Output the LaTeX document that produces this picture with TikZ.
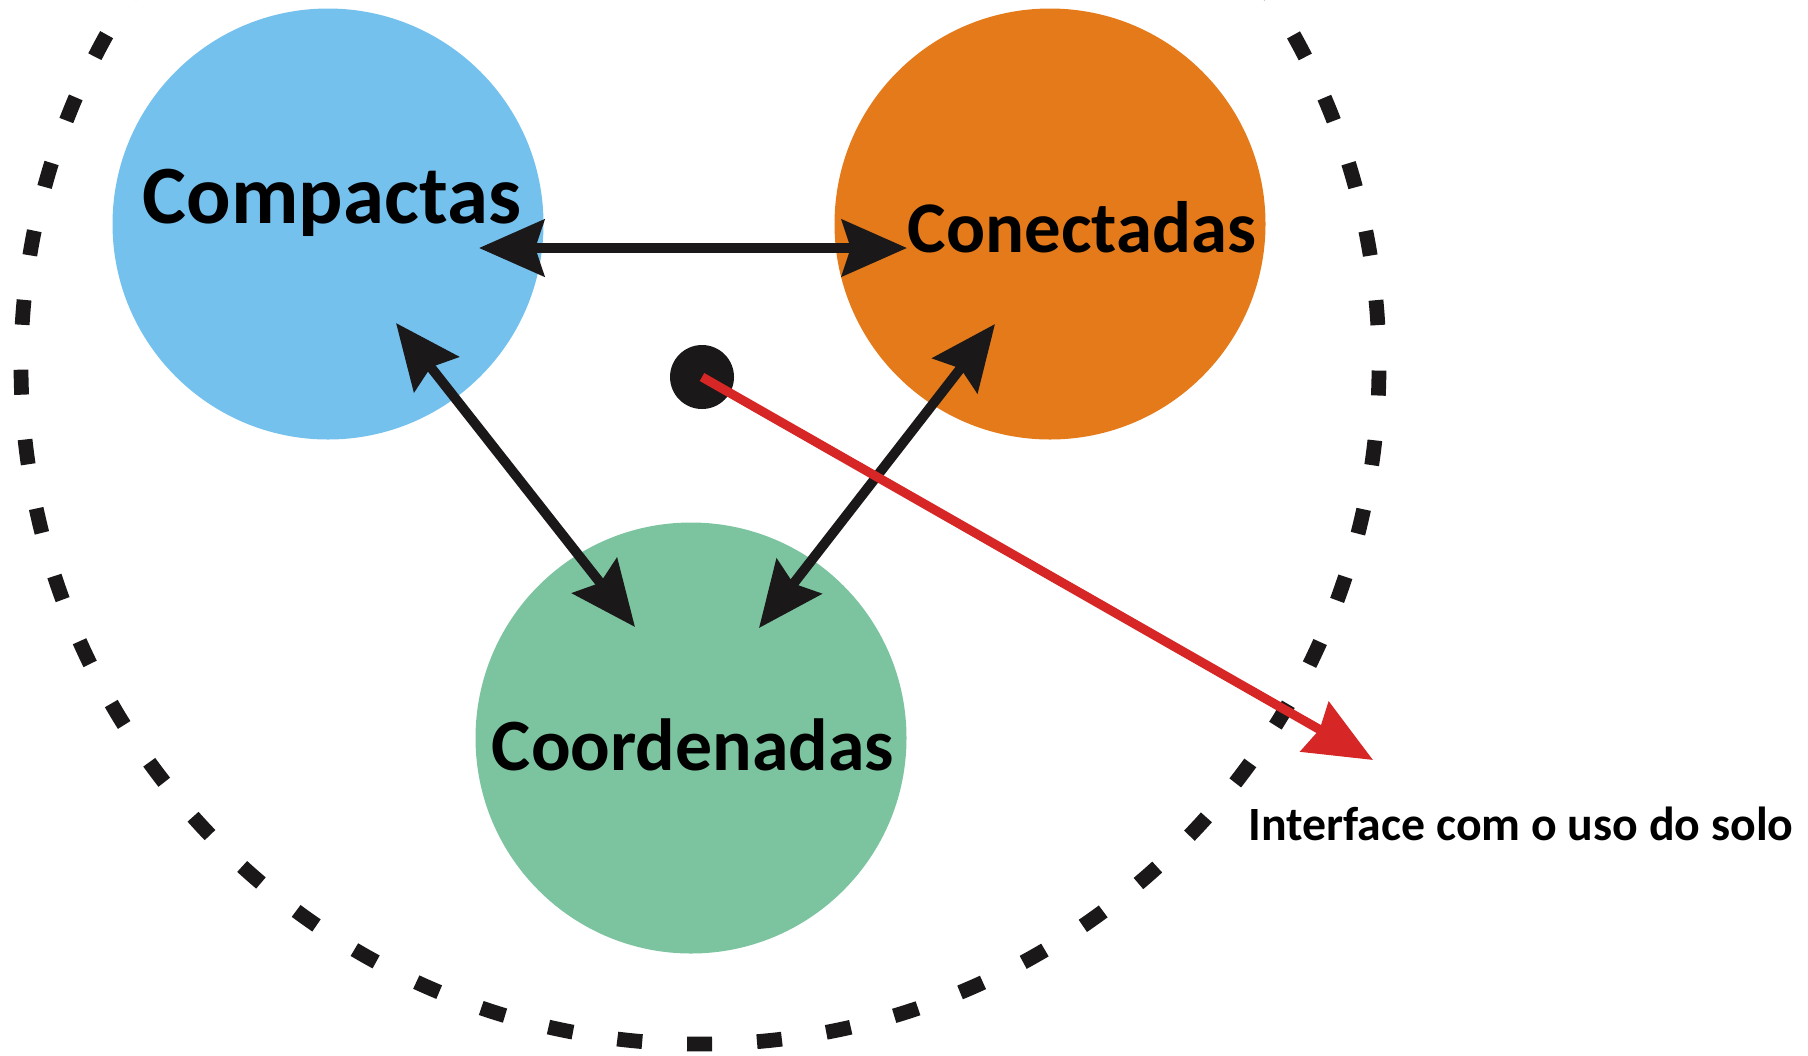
\documentclass[tikz,border=0pt]{standalone}
\usepackage{fontspec}
\setmainfont{Carlito}
\usetikzlibrary{arrows.meta}
\definecolor{azul}{RGB}{117,193,238}
\definecolor{laranja}{RGB}{228,122,26}
\definecolor{verde}{RGB}{124,196,160}
\definecolor{vermelho}{RGB}{214,38,38}
\definecolor{preto}{RGB}{26,24,24}
\tikzset{
  esfera/.style={
    % The shape:
    circle,
    % The size:
    minimum size=4.31cm,inner sep=0pt,
    % The filling:
    draw=none,fill=#1},
  rotulo/.style={
    % The text:
    font=\bfseries,text=black,
    % The rest
    anchor=base,inner sep=0pt},
  ligacao/.style={
    {Stealth[length=18.5pt,width=16pt,inset=2.5pt]}-{Stealth[length=18.5pt,width=16pt,inset=2.5pt]},
    line width=2.8pt,draw=preto},
  fronteira/.style={
    line width=4.2pt,draw=preto,dash pattern=on 0.25cm off 0.4494cm,dash phase=0.30cm}
}

\begin{document}
\begin{tikzpicture}
  \useasboundingbox (0,0) rectangle (18.08,10.55);
  \clip (0,0) rectangle (18.08,10.55);

  % the dashed boundary
  \draw[fronteira] (7.00,6.90) circle (6.79);

  \node (compactas)   [esfera=azul]    at (3.28,8.31) {};
  \node (conectadas)  [esfera=laranja] at (10.50,8.31) {};
  \node (coordenadas) [esfera=verde]   at (6.91,3.17) {};

  \coordinate (pComp1)  at (4.79,8.07);
  \coordinate (pCone1)  at (9.07,8.07);
  \coordinate (pComp2)  at (3.96,7.32);
  \coordinate (pCoord1) at (6.35,4.28);
  \coordinate (pCone2)  at (9.95,7.31);
  \coordinate (pCoord2) at (7.59,4.27);
  \coordinate (fim)     at (13.73,2.95);

  \draw[ligacao] (pComp1) -- (pCone1);
  \draw[ligacao] (pComp2) -- (pCoord1);
  \draw[ligacao] (pCone2) -- (pCoord2);

  \node (centro) [circle,fill=preto,minimum size=0.64cm,inner sep=0pt] at (7.02,6.78) {};
  \draw[-{Stealth[length=19pt,width=16pt,inset=1.5pt]},line width=2.6pt,draw=vermelho,fill=vermelho]
    (centro.center) -- (fim);

  \node (tComp)  [rotulo,font=\fontsize{23.6}{28}\selectfont\bfseries] at (3.32,8.32) {Compactas};
  \node (tCone)  [rotulo,font=\fontsize{20.7}{25}\selectfont\bfseries] at (10.82,8.03) {Conectadas};
  \node (tCoord) [rotulo,font=\fontsize{21}{25}\selectfont\bfseries] at (6.93,2.85) {Coordenadas};
  \node (tInter) [rotulo,font=\fontsize{13.6}{16}\selectfont\bfseries] at (15.21,2.15) {Interface com o uso do solo};
\end{tikzpicture}
\end{document}
